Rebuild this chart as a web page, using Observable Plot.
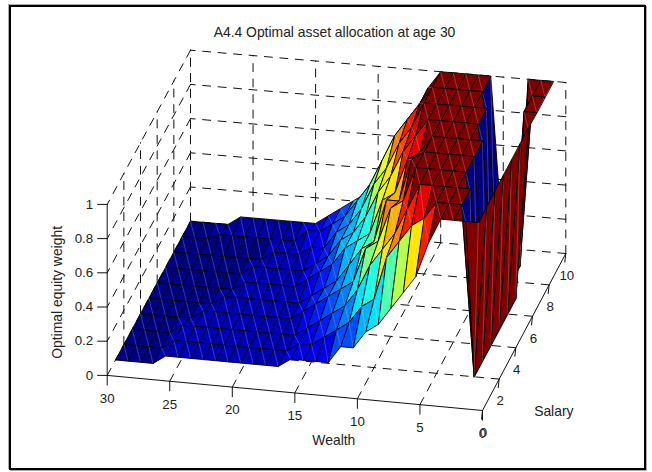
<!DOCTYPE html>
<html>
<head>
<meta charset="utf-8">
<style>
html,body{margin:0;padding:0;background:#fff;}
#wrap{position:relative;width:652px;height:472px;overflow:hidden;}
#frame{position:absolute;left:9px;top:5px;width:633px;height:461px;border:2px solid #000;box-shadow:-1px -1px 0 #aaa, 1px 1px 0 #aaa;pointer-events:none;}
svg{display:block;}
</style>
<script src="https://cdn.jsdelivr.net/npm/d3@7"></script>
<script src="https://cdn.jsdelivr.net/npm/@observablehq/plot@0.6"></script>
</head>
<body>
<div id="wrap"><div id="frame"></div></div>
<script>
const titleText = "A4.4 Optimal asset allocation at age 30";
const wealthLabel = "Wealth", salaryLabel = "Salary", weightLabel = "Optimal equity weight";

// Grid of the surface
const wealth = d3.range(1, 31);
const salary = [1,2,3,4,5,6,7,8,9,10];

// Optimal equity weight at each wealth 1..30, one list per salary level
const s1  = [1,1,1,1,.85,.65,.55,.45,.35,.3,.2,.2,.1,.1,.1,.1,.05,.05,.05,.05,.05,.05,.05,.05,.05,.05,0,0,0,0];
const s2  = [1,0,1,1,1,.9,.85,.75,.65,.4,.35,.25,.2,.15,.1,.1,.05,.05,.05,.05,.05,.05,.05,.05,.05,.05,0,0,0,0];
const s3  = [1,0,1,1,1,1,1,.85,.7,.6,.5,.35,.25,.2,.15,.1,.05,.05,.05,.05,.05,.05,.05,.05,.05,.05,0,0,0,0];
const s4  = [1,0,0,1,1,1,1,1,.8,.75,.55,.5,.3,.25,.2,.15,.1,.05,.05,.05,.05,.05,.05,.05,.05,0,0,0,0,0];
const s5  = [1,0,0,1,1,1,1,1,.95,.7,.7,.45,.4,.3,.2,.15,.1,.05,.05,.05,.05,.05,.05,.05,0,0,0,0,0,0];
const s6  = [1,0,0,1,1,1,1,1,.9,.85,.65,.6,.4,.35,.3,.2,.15,.1,.05,.05,.05,.05,.05,0,0,0,0,0,0,0];
const s7  = [1,0,0,0,1,1,1,1,1,.9,.8,.65,.55,.4,.3,.25,.15,.1,.05,.05,.05,.05,.05,0,0,0,0,0,0,0];
const s8  = [1,1,0,0,1,1,1,1,1,1,.85,.75,.6,.5,.35,.25,.2,.1,.1,.05,.05,.05,0,0,0,0,0,0,0,0];
const s9  = [1,1,0,0,0,1,1,1,1,1,.9,.8,.7,.55,.4,.3,.2,.15,.1,.1,.03,.03,.03,.03,.03,.03,.03,0,0,0];
const s10 = [1,1,1,0,0,1,1,1,1,1,.9,.75,.65,.5,.35,.25,.2,.15,.1,.05,.05,.05,.05,.05,.05,.05,0,0,0,0];
const weights = [s1,s2,s3,s4,s5,s6,s7,s8,s9,s10];

// Axis ticks
const wealthTicks = [0,5,10,15,20,25,30];
const salaryTicks = [0,2,4,6,8,10];
const weightTicks = [0,0.2,0.4,0.6,0.8,1];

// MATLAB-style 3-D view: projection to page pixels, and depth from the viewer
const px = (w,s,z) => 482 - 12.51*w + 8.33*s;
const py = (w,s,z) => 410 - 1.17*w - 15.7*s - 171*z + 0.0093*w*s;
const depth = (w,s,z) => 2.5*w + 34*s - 78.6*z;

const jet = d3.scaleLinear()
  .domain([0,.125,.375,.625,.875,1])
  .range(["rgb(0,0,128)","rgb(0,0,255)","rgb(0,255,255)","rgb(255,255,0)","rgb(255,0,0)","rgb(128,0,0)"])
  .interpolate(d3.interpolateRgb);

// Surface cells, painted from far to near; each cell takes the colour of its lowest-index corner
const cells = [];
for (let j = 0; j < salary.length-1; j++) for (let i = 0; i < wealth.length-1; i++) {
  const c = [[i,j],[i+1,j],[i+1,j+1],[i,j+1]].map(([a,b]) => ({w:wealth[a], s:salary[b], z:weights[b][a]}));
  cells.push({c, color: jet(weights[j][i]), d: d3.mean(c, p => depth(p.w,p.s,p.z))});
}
cells.sort((a,b) => b.d - a.d);
const surface = [];
cells.forEach((cell,k) => {
  cell.c.forEach(p => surface.push({...p, id:"q"+k, fill:cell.color, stroke:"#000", sw:0.9, so:1}));
  // faint seam along the short diagonal, as in the original's rendering
  [cell.c[0], cell.c[2]].forEach(p => surface.push({...p, id:"d"+k, fill:"none", stroke:"#fff", sw:0.6, so:0.2}));
});

const wallLines = [];
let gid = 0;
const seg = (a,b) => { gid++; wallLines.push({w:a[0],s:a[1],z:a[2],g:gid},{w:b[0],s:b[1],z:b[2],g:gid}); };
const wMax = d3.max(wealthTicks), sMax = d3.max(salaryTicks), zMax = d3.max(weightTicks);
wealthTicks.forEach(w => { if (w>0) seg([w,0,0],[w,sMax,0]); seg([w,sMax,0],[w,sMax,zMax]); });
salaryTicks.forEach(s => { if (s>0) { seg([0,s,0],[wMax,s,0]); seg([wMax,s,0],[wMax,s,zMax]); } });
weightTicks.forEach(z => { if (z>0) { seg([0,sMax,z],[wMax,sMax,z]); seg([wMax,sMax,z],[wMax,0,z]); } });

const axisLines = [
  {w:0,s:0,z:0,g:1},{w:wMax,s:0,z:0,g:1},
  {w:0,s:0,z:0,g:2},{w:0,s:sMax,z:0,g:2},
  {w:wMax,s:0,z:0,g:3},{w:wMax,s:0,z:zMax,g:3}
];
const wt = wealthTicks.map(w => ({w,s:0,z:0}));
const st = salaryTicks.map(s => ({w:0,s,z:0}));
const zt = weightTicks.map(z => ({w:wMax,s:0,z}));

const X = d => px(d.w,d.s,d.z), Y = d => py(d.w,d.s,d.z);
const tickFont = {fontFamily:"Liberation Sans, Arial, sans-serif", fontSize:13.3, fill:"#222"};
const font = {fontFamily:"Liberation Sans, Arial, sans-serif", fontSize:13.9, fill:"#222"};

const chart = Plot.plot({
  width:652, height:472, margin:0,
  x:{type:"linear",domain:[0,652],range:[0,652],axis:null},
  y:{type:"linear",domain:[0,472],range:[0,472],axis:null},
  color:{type:"identity"},
  style:{background:"transparent",overflow:"visible"},
  marks:[
    Plot.line(wallLines,{x:X,y:Y,z:"g",stroke:"#111",strokeWidth:1,strokeDasharray:"8,7.5"}),
    Plot.line(surface,{x:X,y:Y,z:"id",fill:"fill",stroke:"stroke",strokeWidth:"sw",strokeOpacity:"so",curve:"linear-closed",strokeLinejoin:"round"}),
    Plot.line(axisLines,{x:X,y:Y,z:"g",stroke:"#111",strokeWidth:1}),
    Plot.link(wt,{x1:X,y1:Y,x2:X,y2:d=>Y(d)+10,stroke:"#111",strokeWidth:1}),
    Plot.link(st,{x1:X,y1:Y,x2:d=>X(d)-1,y2:d=>Y(d)+9,stroke:"#111",strokeWidth:1}),
    Plot.link(zt,{x1:X,y1:Y,x2:d=>X(d)-10,y2:Y,stroke:"#111",strokeWidth:1}),
    Plot.text(wt,{x:X,y:Y,dy:23,text:d=>String(d.w),...tickFont}),
    Plot.text(st,{x:X,y:Y,dy:22,dx:1,text:d=>String(d.s),...tickFont}),
    Plot.text(zt,{x:X,y:Y,dx:-14,textAnchor:"end",text:d=>String(d.z),...tickFont}),
    Plot.text([{w:15,s:0,z:0}],{x:X,y:Y,dy:47.5,dx:39,text:()=>wealthLabel,...font}),
    Plot.text([{w:0,s:4,z:0}],{x:X,y:Y,dx:38,dy:64,text:()=>salaryLabel,...font}),
    Plot.text([{w:30,s:0,z:0.5}],{x:X,y:Y,dx:-49.5,dy:2.5,rotate:-90,text:()=>weightLabel,...font}),
    Plot.text([titleText],{frameAnchor:"top",dy:27,dx:8,...font})
  ]
});
document.getElementById("wrap").prepend(chart);
</script>
</body>
</html>
